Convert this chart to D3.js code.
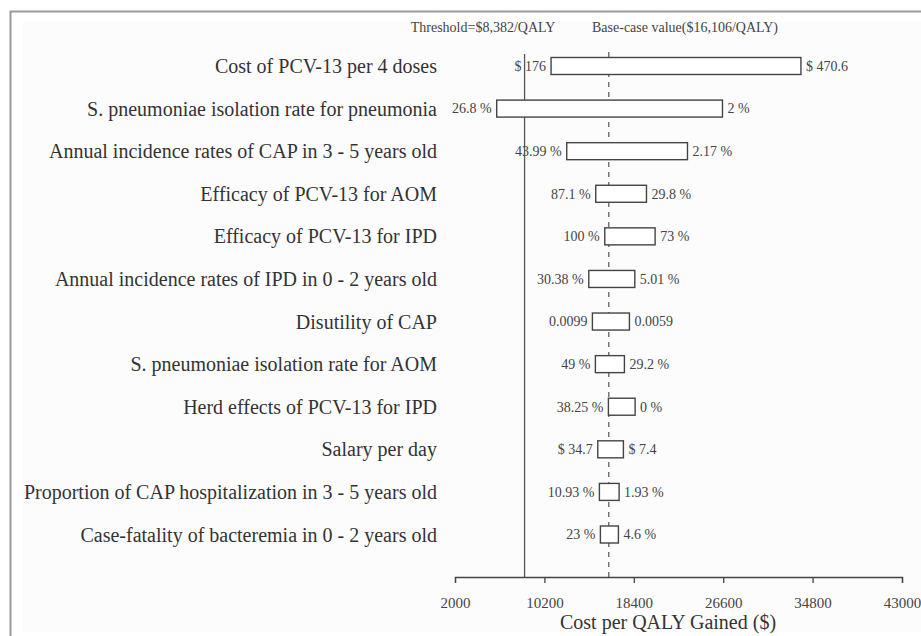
<!DOCTYPE html>
<html>
<head>
<meta charset="utf-8">
<script src="https://cdn.jsdelivr.net/npm/d3@7"></script>
<style>
  body { margin: 0; background: #fff; }
  text { font-family: "Liberation Serif", "Times New Roman", serif; }
</style>
</head>
<body>
<script>
// tornado diagram data (ICER at low / high parameter value)
const params = [
  "Cost of PCV-13 per 4 doses",
  "S. pneumoniae isolation rate for pneumonia",
  "Annual incidence rates of CAP in 3 - 5 years old",
  "Efficacy of PCV-13 for AOM",
  "Efficacy of PCV-13 for IPD",
  "Annual incidence rates of IPD in 0 - 2 years old",
  "Disutility of CAP",
  "S. pneumoniae isolation rate for AOM",
  "Herd effects of PCV-13 for IPD",
  "Salary per day",
  "Proportion of CAP hospitalization in 3 - 5 years old",
  "Case-fatality of bacteremia in 0 - 2 years old"
];
const lowVal = [10811, 5827, 12250, 14911, 15737, 14271, 14602, 14877, 16071, 15097, 15244, 15336];
const highVal = [33730, 26533, 23323, 19562, 20356, 18493, 17998, 17539, 18521, 17447, 17053, 16988];
const leftLabels = ["$ 176", "26.8 %", "43.99 %", "87.1 %", "100 %", "30.38 %", "0.0099", "49 %", "38.25 %", "$ 34.7", "10.93 %", "23 %"];
const rightLabels = ["$ 470.6", "2 %", "2.17 %", "29.8 %", "73 %", "5.01 %", "0.0059", "29.2 %", "0 %", "$ 7.4", "1.93 %", "4.6 %"];
const xTicks = [2000, 10200, 18400, 26600, 34800, 43000];
const threshold = 8382;
const baseCase = 16106;

const W = 921, H = 636;
const svg = d3.select("body").append("svg")
  .attr("width", W)
  .attr("height", H);

// frame + faint panel
svg.append("rect").attr("x", 23).attr("y", 22).attr("width", W - 23).attr("height", 610)
  .attr("fill", "#fcfcfc");
svg.append("path").attr("d", `M10.5,${H} V11.5 H${W}`)
  .attr("fill", "none").attr("stroke", "#9a9a9a").attr("stroke-width", 2);

const x = d3.scaleLinear().domain([2000, 43000]).range([455, 902]);
const y = d3.scalePoint().domain(params).range([66, 534.5]);
const barH = 17;
const axisY = 577;

// reference lines
svg.append("line")
  .attr("x1", x(threshold)).attr("x2", x(threshold))
  .attr("y1", 54).attr("y2", axisY)
  .attr("stroke", "#555").attr("stroke-width", 1.3);
svg.append("line")
  .attr("x1", x(baseCase)).attr("x2", x(baseCase))
  .attr("y1", 52).attr("y2", axisY)
  .attr("stroke", "#555").attr("stroke-width", 1.2)
  .attr("stroke-dasharray", "5,5");

svg.append("text").text("Threshold=$8,382/QALY")
  .attr("x", 483).attr("y", 32).attr("text-anchor", "middle")
  .attr("font-size", "14px").attr("fill", "#444");
svg.append("text").text("Base-case value($16,106/QALY)")
  .attr("x", 685).attr("y", 32).attr("text-anchor", "middle")
  .attr("font-size", "14px").attr("fill", "#444");

// bars
svg.selectAll("rect.bar")
  .data(params)
  .enter()
  .append("rect")
  .attr("class", "bar")
  .attr("x", (d, i) => x(lowVal[i]))
  .attr("y", d => y(d) - barH / 2)
  .attr("width", (d, i) => x(highVal[i]) - x(lowVal[i]))
  .attr("height", barH)
  .attr("fill", "#fff")
  .attr("stroke", "#444")
  .attr("stroke-width", 1.4);

// parameter names
svg.selectAll("text.param")
  .data(params)
  .enter()
  .append("text")
  .attr("class", "param")
  .text(d => d)
  .attr("x", 437)
  .attr("y", d => y(d))
  .attr("dy", "0.35em")
  .attr("text-anchor", "end")
  .attr("font-size", "20px")
  .attr("fill", "#333");

// range labels
svg.selectAll("text.lo")
  .data(params)
  .enter()
  .append("text")
  .attr("class", "lo")
  .text((d, i) => leftLabels[i])
  .attr("x", (d, i) => x(lowVal[i]) - 5)
  .attr("y", d => y(d))
  .attr("dy", "0.35em")
  .attr("text-anchor", "end")
  .attr("font-size", "14px")
  .attr("fill", "#444");
svg.selectAll("text.hi")
  .data(params)
  .enter()
  .append("text")
  .attr("class", "hi")
  .text((d, i) => rightLabels[i])
  .attr("x", (d, i) => x(highVal[i]) + 5)
  .attr("y", d => y(d))
  .attr("dy", "0.35em")
  .attr("text-anchor", "start")
  .attr("font-size", "14px")
  .attr("fill", "#444");

// x axis
const axis = svg.append("g")
  .attr("transform", `translate(0,${axisY})`)
  .call(d3.axisBottom(x).tickValues(xTicks).tickFormat(d3.format("d")).tickSize(6).tickSizeOuter(6).tickPadding(14));
axis.select(".domain").attr("stroke", "#444").attr("stroke-width", 1.3);
axis.selectAll(".tick line").attr("stroke", "#444").attr("stroke-width", 1.3);
axis.selectAll(".tick text")
  .attr("font-family", "Liberation Serif, serif")
  .attr("font-size", "15px")
  .attr("fill", "#444");

svg.append("text").text("Cost per QALY Gained ($)")
  .attr("x", 668).attr("y", 629).attr("text-anchor", "middle")
  .attr("font-size", "20px").attr("fill", "#333");
</script>
</body>
</html>
